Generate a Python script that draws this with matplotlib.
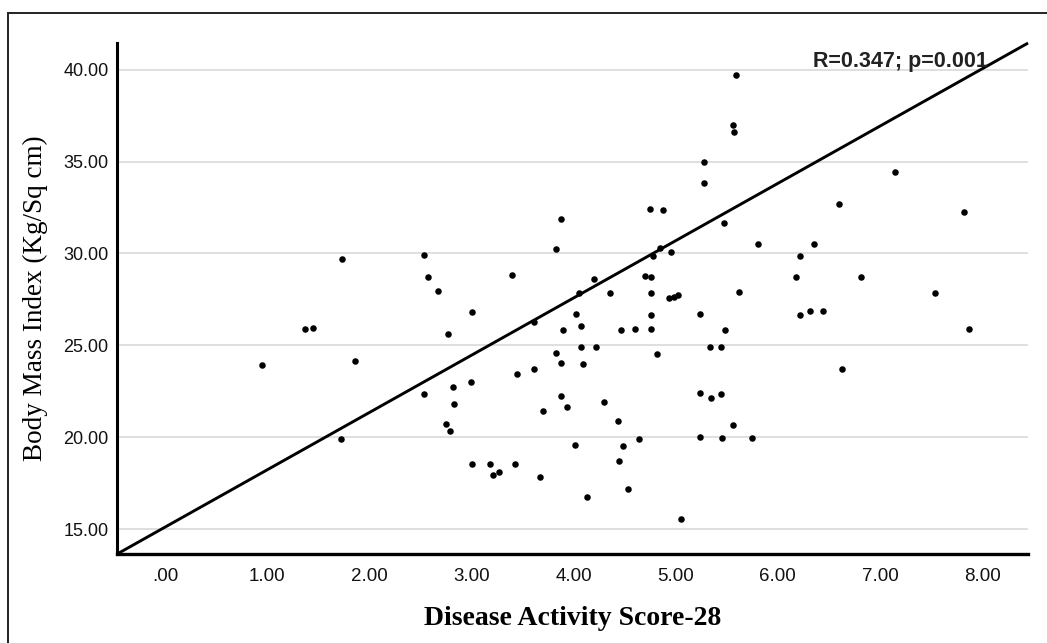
import matplotlib
matplotlib.use("Agg")
import matplotlib.pyplot as plt
from matplotlib.patches import Rectangle

# DAS-28 (x) and BMI (y) values
das28 = [0.95, 1.37, 1.45, 1.72, 1.73, 1.86, 2.54, 2.58, 2.67, 2.77,
         2.82, 2.54, 2.83, 2.75, 2.79,
         3.01, 3.40, 3.83, 3.88, 4.75, 4.88, 4.85, 4.78, 4.95, 4.70,
         4.76, 4.20, 4.36, 4.76, 4.05, 4.93, 4.98, 5.02, 4.02, 4.76,
         4.07, 3.61, 3.90, 4.46, 4.60, 4.76, 4.07, 4.22, 3.83, 4.82,
         3.88, 4.09, 3.45, 3.61, 3.00, 3.88, 3.94, 3.70, 4.30, 4.44,
         4.64, 4.48, 4.01, 4.45, 4.53, 4.13, 3.01, 3.18, 3.21, 3.27,
         3.43, 3.67,
         5.59, 5.56, 5.57, 5.28, 5.28, 7.15, 6.60, 7.82, 5.47, 5.81,
         6.35, 6.22, 6.18, 6.81, 5.62, 7.54, 5.24, 6.22, 6.32, 6.44,
         5.48, 7.87, 5.34, 5.44, 6.63, 5.24, 5.35, 5.44, 5.56, 5.24,
         5.45, 5.75, 5.05]
bmi = [23.92, 25.88, 25.95, 19.92, 29.70, 24.15, 29.90, 28.74, 27.96, 25.62,
       22.72, 22.35, 21.81, 20.72, 20.33,
       26.82, 28.83, 30.23, 31.86, 32.44, 32.37, 30.32, 29.85, 30.10, 28.78,
       28.74, 28.63, 27.85, 27.85, 27.85, 27.60, 27.62, 27.75, 26.69, 26.64,
       26.05, 26.26, 25.84, 25.82, 25.88, 25.88, 24.93, 24.93, 24.60, 24.55,
       24.06, 24.00, 23.43, 23.70, 23.03, 22.26, 21.66, 21.43, 21.92, 20.90,
       19.92, 19.53, 19.60, 18.73, 17.20, 16.74, 18.56, 18.53, 17.93, 18.09,
       18.53, 17.82,
       39.71, 36.99, 36.63, 34.98, 33.82, 34.43, 32.69, 32.27, 31.64, 30.50,
       30.53, 29.85, 28.74, 28.74, 27.92, 27.83, 26.69, 26.65, 26.89, 26.89,
       25.84, 25.90, 24.93, 24.93, 23.70, 22.39, 22.16, 22.36, 20.67, 20.03,
       19.95, 19.95, 15.54]

fit_intercept = 15.11
fit_slope = 3.117
x_ticks = [0, 1, 2, 3, 4, 5, 6, 7, 8]
x_tick_labels = [".00", "1.00", "2.00", "3.00", "4.00", "5.00", "6.00", "7.00", "8.00"]
y_ticks = [15, 20, 25, 30, 35, 40]
y_tick_labels = ["15.00", "20.00", "25.00", "30.00", "35.00", "40.00"]
stats_text = "R=0.347; p=0.001"

fig = plt.figure(figsize=(10.47, 6.43), dpi=100)
ax = fig.add_axes([0.1117, 0.1384, 0.8702, 0.7947])

xlim = (-0.47, 8.45)
ylim = (13.65, 41.45)
ax.set_xlim(*xlim)
ax.set_ylim(*ylim)

for t in y_ticks:
    ax.axhline(t, color="#d6d6d6", lw=1.1, zorder=1)

ax.plot(list(xlim), [fit_intercept + fit_slope * xlim[0], fit_intercept + fit_slope * xlim[1]],
        color="black", lw=2.1, zorder=2, clip_on=False, solid_capstyle="butt")
ax.scatter(das28, bmi, s=22, color="black", zorder=3, linewidths=0)

ax.set_xticks(x_ticks)
ax.set_xticklabels(x_tick_labels, fontfamily="Liberation Sans", fontsize=13.5, color="#111111")
ax.set_yticks(y_ticks)
ax.set_yticklabels(y_tick_labels, fontfamily="Liberation Sans", fontsize=13, color="#111111")
ax.tick_params(axis="x", length=0, pad=10)
ax.tick_params(axis="y", length=0, pad=6)

for side in ["top", "right"]:
    ax.spines[side].set_visible(False)
ax.spines["left"].set_linewidth(2.2)
ax.spines["bottom"].set_linewidth(2.4)

ax.set_xlabel("Disease Activity Score-28", fontfamily="Liberation Serif", fontweight="bold",
              fontsize=20, labelpad=15)
ax.set_ylabel("Body Mass Index (Kg/Sq cm)", fontfamily="Liberation Serif", fontsize=19.5,
              labelpad=11)

ax.text(0.764, 0.953, stats_text, transform=ax.transAxes, fontfamily="Liberation Sans",
        fontweight="bold", fontsize=15.5, va="baseline", ha="left", color="#222222")

# outer border (right and bottom edges fall outside the picture)
fig.add_artist(Rectangle((8 / 1047, -0.1), 1.2, 1.1 - 13 / 643, transform=fig.transFigure,
                         fill=False, edgecolor="#222222", lw=1.4, clip_on=False))

fig.savefig("out.png", dpi=100)
